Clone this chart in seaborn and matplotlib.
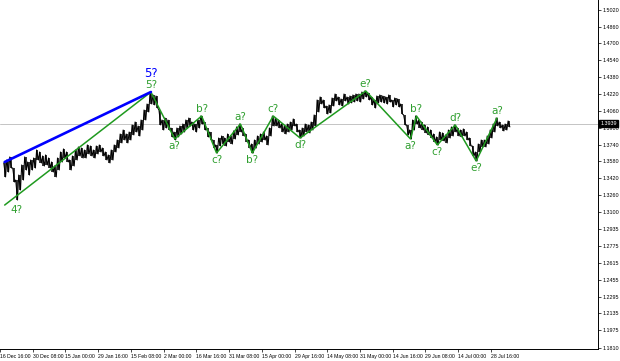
import numpy as np
import pandas as pd
import matplotlib
matplotlib.use("Agg")
import matplotlib.pyplot as plt
import matplotlib.transforms as mtransforms
import seaborn as sns

# ---------------- data ----------------
date_labels = ["16 Dec 16:00", "30 Dec 08:00", "15 Jan 00:00", "29 Jan 16:00",
               "15 Feb 08:00", "2 Mar 00:00", "16 Mar 16:00", "31 Mar 08:00",
               "15 Apr 00:00", "29 Apr 16:00", "14 May 08:00", "31 May 00:00",
               "14 Jun 16:00", "29 Jun 08:00", "14 Jul 00:00", "28 Jul 16:00"]

price_ticks = [1.5020, 1.4860, 1.4700, 1.4540, 1.4380, 1.4220, 1.4060, 1.3900,
               1.3740, 1.3580, 1.3420, 1.3260, 1.3100, 1.2935, 1.2775, 1.2615,
               1.2455, 1.2295, 1.2135, 1.1975, 1.1810]

high = [1.3565, 1.3593, 1.3622, 1.3517, 1.3403, 1.3450, 1.3546, 1.3622, 1.3574, 1.3593,
        1.3612, 1.3688, 1.3669, 1.3631, 1.3641, 1.3612, 1.3574, 1.3536, 1.3612, 1.3669,
        1.3698, 1.3669, 1.3593, 1.3631, 1.3688, 1.3717, 1.3707, 1.3688, 1.3736, 1.3726,
        1.3688, 1.3726, 1.3736, 1.3707, 1.3669, 1.3641, 1.3688, 1.3736, 1.3783, 1.3840,
        1.3878, 1.3840, 1.3859, 1.3926, 1.3954, 1.3916, 1.3973, 1.4068, 1.4125, 1.4230,
        1.4211, 1.4201, 1.4068, 1.3973, 1.3992, 1.3973, 1.3897, 1.3859, 1.3897, 1.3916,
        1.3935, 1.3973, 1.3992, 1.3954, 1.3935, 1.3973, 1.4011, 1.3954, 1.3897, 1.3859,
        1.3783, 1.3736, 1.3802, 1.3821, 1.3802, 1.3840, 1.3821, 1.3869, 1.3907, 1.3935,
        1.3897, 1.3840, 1.3783, 1.3745, 1.3783, 1.3821, 1.3840, 1.3859, 1.3821, 1.3897,
        1.4011, 1.3992, 1.3973, 1.3935, 1.3916, 1.3935, 1.3954, 1.3983, 1.3935, 1.3878,
        1.3897, 1.3935, 1.3926, 1.3954, 1.4021, 1.4163, 1.4192, 1.4163, 1.4106, 1.4116,
        1.4182, 1.4220, 1.4192, 1.4173, 1.4220, 1.4192, 1.4201, 1.4211, 1.4220, 1.4220,
        1.4239, 1.4249, 1.4230, 1.4192, 1.4163, 1.4201, 1.4211, 1.4201, 1.4192, 1.4211,
        1.4163, 1.4182, 1.4173, 1.4125, 1.4021, 1.3926, 1.3878, 1.3973, 1.4011, 1.3973,
        1.3954, 1.3926, 1.3907, 1.3878, 1.3840, 1.3812, 1.3859, 1.3850, 1.3831, 1.3878,
        1.3907, 1.3926, 1.3897, 1.3878, 1.3888, 1.3859, 1.3802, 1.3726, 1.3669, 1.3745,
        1.3783, 1.3783, 1.3821, 1.3878, 1.3935, 1.3992, 1.3954, 1.3926, 1.3935, 1.3964]

low = [1.3432, 1.3479, 1.3517, 1.3384, 1.3213, 1.3308, 1.3403, 1.3498, 1.3450, 1.3498,
       1.3517, 1.3593, 1.3565, 1.3536, 1.3546, 1.3517, 1.3479, 1.3432, 1.3498, 1.3574,
       1.3612, 1.3574, 1.3498, 1.3536, 1.3593, 1.3631, 1.3612, 1.3612, 1.3650, 1.3631,
       1.3612, 1.3650, 1.3669, 1.3631, 1.3593, 1.3565, 1.3593, 1.3669, 1.3707, 1.3755,
       1.3783, 1.3755, 1.3783, 1.3831, 1.3859, 1.3821, 1.3878, 1.3973, 1.4049, 1.4125,
       1.4116, 1.4087, 1.3926, 1.3878, 1.3897, 1.3878, 1.3812, 1.3783, 1.3812, 1.3840,
       1.3859, 1.3897, 1.3916, 1.3878, 1.3859, 1.3897, 1.3935, 1.3878, 1.3812, 1.3783,
       1.3707, 1.3660, 1.3726, 1.3745, 1.3726, 1.3764, 1.3745, 1.3793, 1.3831, 1.3859,
       1.3821, 1.3764, 1.3707, 1.3660, 1.3707, 1.3745, 1.3764, 1.3783, 1.3736, 1.3821,
       1.3916, 1.3916, 1.3897, 1.3859, 1.3840, 1.3859, 1.3878, 1.3916, 1.3859, 1.3802,
       1.3821, 1.3859, 1.3850, 1.3878, 1.3916, 1.4049, 1.4125, 1.4087, 1.4030, 1.4040,
       1.4106, 1.4154, 1.4116, 1.4106, 1.4154, 1.4125, 1.4135, 1.4144, 1.4154, 1.4144,
       1.4173, 1.4192, 1.4163, 1.4116, 1.4087, 1.4135, 1.4144, 1.4135, 1.4125, 1.4144,
       1.4097, 1.4116, 1.4097, 1.4030, 1.3926, 1.3831, 1.3793, 1.3878, 1.3935, 1.3897,
       1.3878, 1.3850, 1.3831, 1.3802, 1.3764, 1.3736, 1.3783, 1.3774, 1.3755, 1.3802,
       1.3821, 1.3859, 1.3821, 1.3812, 1.3821, 1.3783, 1.3726, 1.3631, 1.3584, 1.3669,
       1.3717, 1.3717, 1.3745, 1.3802, 1.3859, 1.3916, 1.3897, 1.3869, 1.3878, 1.3907]

wave_idx = [0, 49, 57, 66, 71, 79, 83, 90, 99, 121, 136, 138, 145, 151, 158, 165]
wave_price = [1.3165, 1.4239, 1.3793, 1.4011, 1.3660, 1.3935, 1.3660, 1.4011, 1.3802,
              1.4249, 1.3793, 1.4011, 1.3736, 1.3926, 1.3584, 1.3992]
wave_labels = ["", "5?", "a?", "b?", "c?", "a?", "b?", "c?", "d?", "e?",
               "a?", "b?", "c?", "d?", "e?", "a?"]

label4_idx, label4_price = 4, 1.3213

blue_idx = [0, 49]
blue_price = [1.3574, 1.4239]

current_price = 1.3939

# ---------------- styling ----------------
sns.set_style("white")
plt.rcParams['font.family'] = ['DejaVu Sans']

W, H = 620, 361
fig = plt.figure(figsize=(W / 100, H / 100), dpi=100)
plot_right_px, plot_bottom_px = 598, 349
ax = fig.add_axes([0, 1 - plot_bottom_px / H, plot_right_px / W, plot_bottom_px / H])

GREEN = "#1f9a1f"
GREEN_TXT = "#2f9f2f"
BLUE = "#0000ff"
TICK_FONT = "Liberation Sans"

px_per_unit = 3.0  # one data entry every 3 px
x = np.arange(len(high))

# current price line
ax.axhline(current_price, color="#c4c4c4", lw=0.7, zorder=1)

# price bars: wicks plus a zigzag through each bar's high and low
ax.vlines(x, low, high, color="black", lw=1.1, zorder=2)
zz = pd.DataFrame({
    "x": np.column_stack([x - 0.3, x + 0.3]).ravel(),
    "p": np.column_stack([high, low]).ravel(),
})
ax.plot(zz["x"], zz["p"], color="black", lw=0.75, zorder=2)

# wave lines
wdf = pd.DataFrame({"x": wave_idx, "p": wave_price})
sns.lineplot(data=wdf, x="x", y="p", ax=ax, color=GREEN, lw=1.1, sort=False,
             estimator=None, zorder=3)
bdf = pd.DataFrame({"x": blue_idx, "p": blue_price})
sns.lineplot(data=bdf, x="x", y="p", ax=ax, color=BLUE, lw=1.9, sort=False,
             estimator=None, zorder=3)

# wave labels
for i in range(1, len(wave_idx)):
    peak = wave_price[i] > wave_price[i - 1]
    ax.annotate(wave_labels[i], (wave_idx[i], wave_price[i]),
                xytext=(0, 1.5 if peak else -1.5), textcoords="offset points",
                ha="center", va="bottom" if peak else "top",
                color=GREEN_TXT, fontsize=7.5, zorder=4)
ax.annotate("5?", (wave_idx[1], wave_price[1]), xytext=(0, 8.6),
            textcoords="offset points", ha="center", va="bottom",
            color=BLUE, fontsize=8.5, zorder=4)
ax.annotate("4?", (label4_idx, label4_price), xytext=(0, -3.5),
            textcoords="offset points", ha="center", va="top",
            color=GREEN_TXT, fontsize=7.5, zorder=4)

# axes limits: px -> data
ax.set_xlim(-0.5, plot_right_px / px_per_unit - 0.5)
p_top, p_per_px = 1.5113, 0.00095
ax.set_ylim(p_top - plot_bottom_px * p_per_px, p_top)

# x ticks (left aligned, every ~32.9 px)
tick_px = -3.2 + 32.9 * np.arange(len(date_labels))
ax.set_xticks(tick_px / px_per_unit - 0.5)
ax.set_xticklabels(date_labels, fontfamily=TICK_FONT, fontsize=3.7)
for lab in ax.get_xticklabels():
    lab.set_ha("left")
ax.tick_params(axis="x", direction="out", length=2, width=0.5, pad=1.5,
               colors="black", bottom=True)

# y ticks on the right
ax.yaxis.tick_right()
ax.set_yticks(price_ticks)
ax.set_yticklabels([f"{v:.4f}" for v in price_ticks], fontfamily=TICK_FONT,
                   fontsize=3.9)
ax.tick_params(axis="y", direction="out", length=2, width=0.5, pad=1.5,
               colors="black", right=True, left=False)

ax.set_xlabel("")
ax.set_ylabel("")
for s in ["left", "top"]:
    ax.spines[s].set_visible(False)
for s in ["right", "bottom"]:
    ax.spines[s].set_color("black")
    ax.spines[s].set_linewidth(0.7)

# current price box
trans = mtransforms.blended_transform_factory(ax.transAxes, ax.transData)
ax.text(1.004, current_price, f"{current_price:.4f}", transform=trans,
        ha="left", va="center", color="white", fontsize=3.9, zorder=6,
        fontfamily=TICK_FONT,
        bbox=dict(facecolor="black", edgecolor="black", pad=1.0), clip_on=False)

fig.savefig("out.png", dpi=100)
